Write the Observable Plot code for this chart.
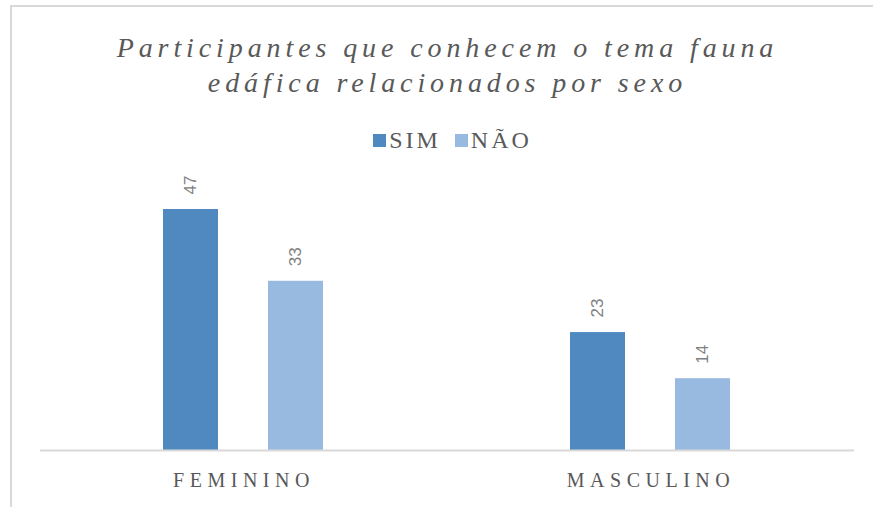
<!DOCTYPE html>
<html>
<head>
<meta charset="utf-8">
<script src="https://cdn.jsdelivr.net/npm/d3@7"></script>
<script src="https://cdn.jsdelivr.net/npm/@observablehq/plot@0.6"></script>
<style>
  html, body { margin: 0; padding: 0; background: #fff; }
  #wrap { position: relative; width: 873px; height: 507px; overflow: hidden; background: #fff; }
  #frame { position: absolute; left: 10px; top: 5px; width: 870px; height: 510px;
           border-left: 2px solid #d9d9d9; border-top: 2px solid #d9d9d9; }
  #title { position: absolute; left: 11px; top: 30px; width: 873px; text-align: center;
           font-family: "Liberation Serif", "Times New Roman", Tinos, "DejaVu Serif", serif; font-style: italic; font-size: 28px;
           line-height: 35px; letter-spacing: 4.9px; color: #595959; }
  #legend { position: absolute; left: 16px; top: 127px; width: 873px; display: flex; justify-content: center;
            font-family: "Liberation Serif", "Times New Roman", Tinos, "DejaVu Serif", serif; font-size: 24px; letter-spacing: 3px; color: #595959; }
  #legend .item { display: flex; align-items: center; margin: 0 7px; }
  #legend .sw { width: 13px; height: 13px; margin-right: 3px; }
  #chart { position: absolute; left: 0; top: 0; }
  #chart svg [aria-label="fx-axis tick label"] text { letter-spacing: 5.5px; font-family: "Liberation Serif", "Times New Roman", Tinos, "DejaVu Serif", serif; }
</style>
</head>
<body>
<div id="wrap">
  <div id="frame"></div>
  <div id="chart"></div>
  <div id="title">Participantes que conhecem o tema fauna<br>edáfica relacionados por sexo</div>
  <div id="legend"></div>
</div>
<script>
const categories = ["FEMININO", "MASCULINO"];
const series = ["SIM", "NÃO"];
const simValues = [47, 23];
const naoValues = [33, 14];
const colors = ["#4f89bf", "#98b9e0"];

const data = [];
categories.forEach((c, i) => {
  data.push({sexo: c, serie: "SIM", valor: simValues[i]});
  data.push({sexo: c, serie: "NÃO", valor: naoValues[i]});
});

const legend = document.getElementById("legend");
series.forEach((s, i) => {
  const item = document.createElement("div");
  item.className = "item";
  const sw = document.createElement("div");
  sw.className = "sw";
  sw.style.background = colors[i];
  const t = document.createElement("span");
  t.textContent = s;
  item.appendChild(sw); item.appendChild(t);
  legend.appendChild(item);
});

const chart = Plot.plot({
  width: 873,
  height: 507,
  marginLeft: 40,
  marginRight: 19,
  marginTop: 0,
  marginBottom: 57,
  style: {background: "transparent", overflow: "visible"},
  fx: {domain: categories, padding: 0, label: null},
  x: {domain: series, paddingInner: 0.476, paddingOuter: 1.176, axis: null},
  y: {domain: [0, 47], range: [450, 209], axis: null},
  color: {domain: series, range: colors},
  marks: [
    Plot.barY(data, {fx: "sexo", x: "serie", y: "valor", fill: "serie"}),
    Plot.ruleY([0], {stroke: "#d9d9d9", strokeWidth: 2}),
    Plot.text(data, {fx: "sexo", x: "serie", y: "valor", text: d => String(d.valor),
      rotate: -90, textAnchor: "start", lineAnchor: "middle", dy: -15,
      fill: "#808080", fontSize: 17, fontFamily: "Liberation Sans, sans-serif"}),
    Plot.axisFx({anchor: "bottom", tickSize: 0, tickPadding: 22, label: null,
      fontSize: 20, fill: "#595959"})
  ]
});
document.getElementById("chart").appendChild(chart);
</script>
</body>
</html>
